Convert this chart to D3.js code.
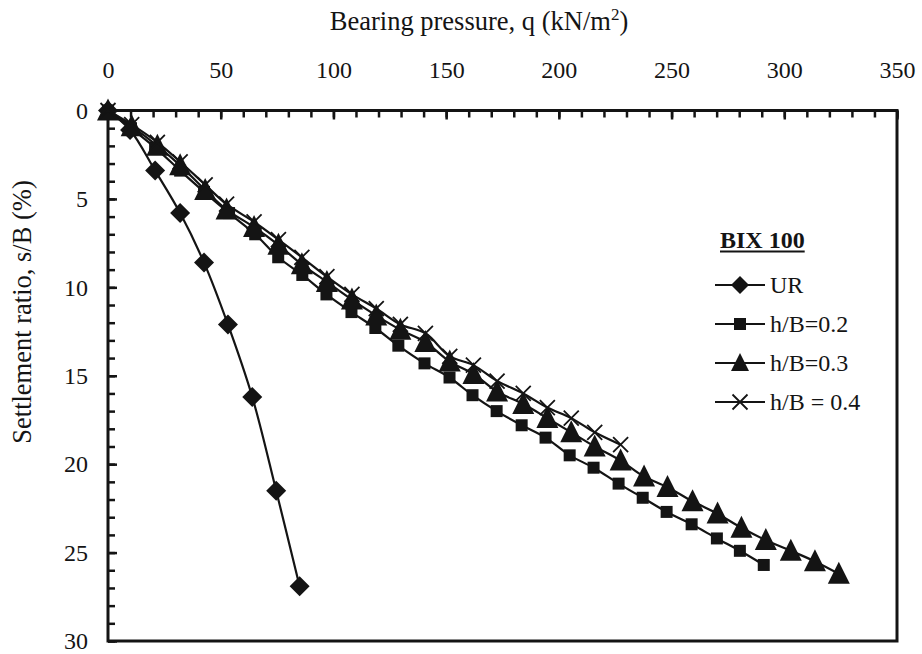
<!DOCTYPE html>
<html>
<head>
<meta charset="utf-8">
<script src="https://cdn.jsdelivr.net/npm/d3@7/dist/d3.min.js"></script>
<style>
  html, body { margin: 0; padding: 0; background: #fff; }
  svg { display: block; }
</style>
</head>
<body>
<svg id="chart" width="922" height="654"></svg>
<script>
// Bearing pressure q (kN/m²) vs settlement ratio s/B (%) for each reinforcement case
const qUR  = [0, 9.8, 20.9, 32, 42.6, 53.2, 64, 74.6, 85];
const sUR  = [0, 1.1, 3.4, 5.8, 8.6, 12.1, 16.2, 21.5, 26.9];

const qH02 = [0, 10.2, 20.9, 32, 42.6, 53.7, 65.3, 75.5, 86.2, 96.9, 108, 118.6, 128.8, 140.4,
              151.5, 161.7, 172.4, 183.5, 194.1, 204.8, 215.4, 226.5, 237.2, 247.8, 258.9, 270.1, 280.3, 290.9];
const sH02 = [0, 1.0, 2.1, 3.4, 4.6, 5.8, 7.0, 8.3, 9.3, 10.4, 11.4, 12.3, 13.3, 14.3,
              15.1, 16.1, 17.0, 17.8, 18.5, 19.5, 20.2, 21.1, 21.9, 22.7, 23.4, 24.2, 24.9, 25.7];

const qH03 = [0, 10.5, 21.9, 32, 43.1, 52.6, 64.8, 75.6, 86, 97.1, 108.2, 119, 129.7, 140.8, 151.6,
              162.1, 172.6, 184.2, 194.9, 205.5, 215.9, 227.4, 237.8, 248.2, 259.3, 270.4, 281, 291.8,
              302.9, 313.6, 324.2];
const sH03 = [0, 0.9, 2.0, 3.1, 4.5, 5.6, 6.6, 7.6, 8.7, 9.7, 10.7, 11.6, 12.4, 13.1, 14.2,
              14.9, 15.9, 16.6, 17.4, 18.2, 19.0, 19.8, 20.7, 21.3, 22.1, 22.8, 23.6, 24.3,
              24.9, 25.5, 26.2];

const qH04 = [0, 10.5, 21.9, 32, 43.1, 52.6, 64.8, 75.6, 86, 97.1, 108.2, 119, 129.7, 140.8, 151.6,
              162.1, 172.6, 184.2, 194.9, 205.5, 215.9, 227.4];
const sH04 = [0, 0.8, 1.8, 2.9, 4.2, 5.3, 6.3, 7.3, 8.3, 9.4, 10.4, 11.2, 12.1, 12.6, 13.9,
              14.4, 15.3, 16.0, 16.8, 17.4, 18.2, 18.9];

const xTicks = [0, 50, 100, 150, 200, 250, 300, 350];
const yTicks = [0, 5, 10, 15, 20, 25, 30];
const seriesNames = ["UR", "h/B=0.2", "h/B=0.3", "h/B = 0.4"];
const legendTitle = "BIX 100";

const INK = "#141414";
const FONT = "'Liberation Serif', 'Times New Roman', serif";
const svg = d3.select("#chart");

const x = d3.scaleLinear().domain([0, 350]).range([108, 897]);
const y = d3.scaleLinear().domain([0, 30]).range([110.5, 641]);

const styleText = (sel, size = 24) =>
  sel.style("font-family", FONT).style("font-size", size + "px").style("fill", INK);

// minor ticks (every 10 on q, every 1 on s/B), pointing into the plot
svg.append("g").attr("transform", `translate(0,${y(0)})`)
  .call(d3.axisTop(x).tickValues(d3.range(0, 351, 10)).tickSize(-7).tickFormat(""))
  .call(g => g.select(".domain").remove())
  .call(g => g.selectAll("line").attr("stroke", INK).attr("stroke-width", 2.5));
svg.append("g").attr("transform", `translate(${x(0)},0)`)
  .call(d3.axisLeft(y).tickValues(d3.range(0, 31, 1)).tickSize(-7).tickFormat(""))
  .call(g => g.select(".domain").remove())
  .call(g => g.selectAll("line").attr("stroke", INK).attr("stroke-width", 2.5));

// major ticks with labels
svg.append("g").attr("transform", `translate(0,${y(0)})`)
  .call(d3.axisTop(x).tickValues(xTicks).tickSize(-9).tickPadding(33).tickFormat(d3.format("d")))
  .call(g => g.select(".domain").remove())
  .call(g => g.selectAll("line").attr("stroke", INK).attr("stroke-width", 2.5))
  .call(g => styleText(g.selectAll("text")));
svg.append("g").attr("transform", `translate(${x(0)},0)`)
  .call(d3.axisLeft(y).tickValues(yTicks).tickSize(-9).tickPadding(20).tickFormat(d3.format("d")))
  .call(g => g.select(".domain").remove())
  .call(g => g.selectAll("line").attr("stroke", INK).attr("stroke-width", 2.5))
  .call(g => styleText(g.selectAll("text")));

// plot frame
svg.append("rect")
  .attr("x", x(0)).attr("y", y(0))
  .attr("width", x(350) - x(0)).attr("height", y(30) - y(0))
  .attr("fill", "none").attr("stroke", INK).attr("stroke-width", 3);

// axis titles
const xt = svg.append("text").attr("x", 479).attr("y", 30)
  .attr("text-anchor", "middle").call(styleText, 26.5);
xt.append("tspan").text("Bearing pressure, q (kN/m");
xt.append("tspan").text("2").style("font-size", "17px").attr("dy", -10);
xt.append("tspan").text(")").attr("dy", 10);

svg.append("text")
  .attr("transform", "translate(31,312) rotate(-90)")
  .attr("text-anchor", "middle").call(styleText, 26.5)
  .text("Settlement ratio, s/B (%)");

// marker shapes
const markers = {
  diamond: s => `M0,${-s / 2}L${s / 2},0L0,${s / 2}L${-s / 2},0Z`,
  square: s => `M${-s / 2},${-s / 2}h${s}v${s}h${-s}Z`,
  triangle: s => `M0,${-s * 0.55}L${s / 2},${s * 0.45}L${-s / 2},${s * 0.45}Z`,
  cross: s => `M${-s / 2},${-s / 2}L${s / 2},${s / 2}M${s / 2},${-s / 2}L${-s / 2},${s / 2}`
};

const series = [
  { name: seriesNames[0], q: qUR,  s: sUR,  mark: "diamond",  size: 20, lsize: 18 },
  { name: seriesNames[1], q: qH02, s: sH02, mark: "square",   size: 12, lsize: 12 },
  { name: seriesNames[2], q: qH03, s: sH03, mark: "triangle", size: 22, lsize: 18 },
  { name: seriesNames[3], q: qH04, s: sH04, mark: "cross",    size: 15, lsize: 15 }
];

const line = d3.line().x(d => x(d[0])).y(d => y(d[1])).curve(d3.curveCatmullRom.alpha(0.5));

function drawMarker(g, kind, size, cx, cy) {
  const p = g.append("path").attr("d", markers[kind](size))
    .attr("transform", `translate(${cx},${cy})`);
  if (kind === "cross") p.attr("fill", "none").attr("stroke", INK).attr("stroke-width", 1.8);
  else p.attr("fill", INK).attr("stroke", "none");
}

series.forEach(sr => {
  const pts = sr.q.map((q, i) => [q, sr.s[i]]);
  const g = svg.append("g");
  g.append("path").attr("d", line(pts))
    .attr("fill", "none").attr("stroke", INK).attr("stroke-width", 2.2);
  pts.forEach(p => drawMarker(g, sr.mark, sr.size, x(p[0]), y(p[1])));
});

// legend
const lg = svg.append("g");
const lt = lg.append("text").attr("x", 720).attr("y", 248)
  .call(styleText, 24).style("font-weight", "bold").text(legendTitle);
const ltw = lt.node().getComputedTextLength();
lg.append("line").attr("x1", 720).attr("x2", 720 + ltw).attr("y1", 251.5).attr("y2", 251.5)
  .attr("stroke", INK).attr("stroke-width", 1.8);

const rowY = [285, 324, 363, 402];
series.forEach((sr, i) => {
  const cy = rowY[i];
  lg.append("line").attr("x1", 715).attr("x2", 765).attr("y1", cy).attr("y2", cy)
    .attr("stroke", INK).attr("stroke-width", 2.2);
  drawMarker(lg, sr.mark, sr.lsize, 740, cy);
  lg.append("text").attr("x", 770).attr("y", cy + 8).call(styleText, 24).text(sr.name);
});
</script>
</body>
</html>
